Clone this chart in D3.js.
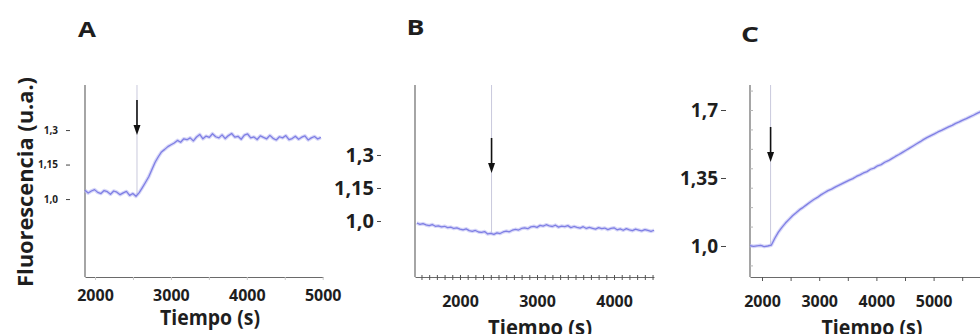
<!DOCTYPE html>
<html>
<head>
<meta charset="utf-8">
<script src="https://cdn.jsdelivr.net/npm/d3@7"></script>
<style>
  body { margin: 0; background: #fff; }
  svg { display: block; }
  text { font-family: "Open Sans", sans-serif; font-weight: 700; fill: #1e1e1e; }
</style>
</head>
<body>
<svg id="chart" width="980" height="334"></svg>
<script>
// ---- data -------------------------------------------------------------
const panelLetters = ["A", "B", "C"];
const xTitle = "Tiempo (s)";
const yTitle = "Fluorescencia (u.a.)";

// Panel A: fluorescence trace, sampled every 42 s from 1868 s
const timeStartA = 1868, timeStepA = 42;
const valuesA = [
  1.038,1.026,1.035,1.041,1.029,1.024,1.037,1.032,1.021,1.035,
  1.030,1.019,1.027,1.033,1.016,1.024,1.012,1.028,
  1.050,1.073,1.097,1.129,1.160,1.184,1.205,1.216,1.228,1.236,
  1.244,1.255,1.247,1.262,1.258,1.266,1.253,1.270,1.281,1.262,
  1.274,1.268,1.284,1.271,1.266,1.279,1.263,1.276,1.285,1.269,
  1.273,1.260,1.278,1.283,1.266,1.270,1.259,1.275,1.268,1.262,
  1.277,1.264,1.257,1.271,1.266,1.276,1.258,1.263,1.273,1.260,
  1.269,1.275,1.257,1.266,1.272,1.261,1.268
];
const xTicksA = [2000, 3000, 4000, 5000];
const yTicksA = [1.0, 1.15, 1.3];
const yTickLabelsA = ["1,0", "1,15", "1,3"];
const additionA = 2553;          // time of the addition (arrow)

// Panel B
const timeStartB = 1440, timeStepB = 40;
const valuesB = [
  0.991,0.985,0.988,0.982,0.979,0.984,0.976,0.978,0.973,0.976,
  0.970,0.972,0.966,0.969,0.963,0.960,0.964,0.956,0.953,0.957,
  0.950,0.948,0.952,0.941,0.944,0.939,0.946,0.943,0.950,0.954,
  0.951,0.958,0.962,0.959,0.966,0.969,0.965,0.973,0.976,0.971,
  0.980,0.977,0.983,0.978,0.975,0.981,0.972,0.977,0.974,0.979,
  0.970,0.975,0.971,0.968,0.974,0.966,0.971,0.967,0.963,0.970,
  0.965,0.968,0.961,0.966,0.969,0.960,0.964,0.958,0.965,0.960,
  0.956,0.963,0.959,0.955,0.961,0.957,0.953,0.958
];
const xTicksB = [2000, 3000, 4000];
const yTicksB = [1.0, 1.15, 1.3];
const yTickLabelsB = ["1,0", "1,15", "1,3"];
const additionB = 2410;

// Panel C
const timeStartC = 1790, timeStepC = 62;
const valuesC = [
  1.002,0.998,1.001,1.003,0.997,1.000,1.004,1.040,1.071,1.096,
  1.118,1.137,1.156,1.171,1.187,1.199,1.213,1.226,1.239,1.250,
  1.263,1.274,1.285,1.293,1.303,1.312,1.321,1.330,1.339,1.347,
  1.358,1.366,1.376,1.383,1.395,1.401,1.413,1.419,1.431,1.439,
  1.450,1.461,1.471,1.482,1.493,1.504,1.515,1.526,1.537,1.549,
  1.559,1.568,1.577,1.587,1.595,1.604,1.613,1.621,1.631,1.639,
  1.648,1.656,1.665,1.673,1.683,1.691
];
const xTicksC = [2000, 3000, 4000, 5000];
const yTicksC = [1.0, 1.35, 1.7];
const yTickLabelsC = ["1,0", "1,35", "1,7"];
const additionC = 2150;

// ---- layout -----------------------------------------------------------
const plotTop = 85, plotBottom = 277;
const panels = [
  { letter: panelLetters[0], letterPos: [87, 37],
    t0: timeStartA, dt: timeStepA, values: valuesA,
    xDomain: [1868, 5004], xRange: [85, 323], yDomain: [0.661, 1.496],
    xTicks: xTicksA, minorStep: 500, minorStyle: "faint",
    yTicks: yTicksA, yLabels: yTickLabelsA, yAxisX: 70, yTickSize: 4, yPad: 8, yFont: 10,
    tickLabelY: 301, titlePos: [210, 324.5], titleLen: 100,
    addT: additionA, markerTo: 1.02, arrow: [100, 135] },
  { letter: panelLetters[1], letterPos: [415.5, 35],
    t0: timeStartB, dt: timeStepB, values: valuesB,
    xDomain: [1416, 4519], xRange: [415, 654], yDomain: [0.7455, 1.618],
    xTicks: xTicksB, minorStep: 100, minorStyle: "cross",
    yTicks: yTicksB, yLabels: yTickLabelsB, yAxisX: 381, yTickSize: 4, yPad: 3, yFont: 20,
    tickLabelY: 307, titlePos: [540, 335], titleLen: 104,
    addT: additionB, markerTo: 0.944, arrow: [138, 173] },
  { letter: panelLetters[2], letterPos: [750, 42],
    t0: timeStartC, dt: timeStepC, values: valuesC,
    xDomain: [1790, 5820], xRange: [750, 980.5], yDomain: [0.8404, 1.8287],
    xTicks: xTicksC, minorStep: 500, minorStyle: "below", yMinor: true,
    yTicks: yTicksC, yLabels: yTickLabelsC, yAxisX: 726, yTickSize: 5, yPad: 3, yFont: 19,
    tickLabelY: 307, titlePos: [872, 335], titleLen: 101,
    addT: additionC, markerTo: 1.0, arrow: [127, 162] }
];

const svg = d3.select("#chart");

panels.forEach(p => {
  const x = d3.scaleLinear().domain(p.xDomain).range(p.xRange);
  const y = d3.scaleLinear().domain(p.yDomain).range([plotBottom, plotTop]);
  const g = svg.append("g");

  // panel letter
  g.append("text").attr("x", p.letterPos[0]).attr("y", p.letterPos[1])
    .attr("text-anchor", "middle").style("font-size", "22px")
    .attr("textLength", 18).attr("lengthAdjust", "spacingAndGlyphs").text(p.letter);

  // addition marker: thin vertical line + black arrow
  const xa = x(p.addT);
  g.append("line").attr("x1", xa).attr("x2", xa)
    .attr("y1", plotTop).attr("y2", y(p.markerTo))
    .attr("stroke", "#c9c9dd").attr("stroke-width", 1);
  g.append("line").attr("x1", xa).attr("x2", xa)
    .attr("y1", p.arrow[0]).attr("y2", p.arrow[1] - 8)
    .attr("stroke", "#111").attr("stroke-width", 1.6);
  g.append("path")
    .attr("d", `M${xa - 3.5},${p.arrow[1] - 10}L${xa + 3.5},${p.arrow[1] - 10}L${xa},${p.arrow[1]}Z`)
    .attr("fill", "#111");

  // minor ticks along the time axis
  const minorVals = d3.range(Math.ceil(p.xDomain[0] / p.minorStep) * p.minorStep, p.xDomain[1] + 1, p.minorStep);
  const xMinor = d3.axisBottom(x).tickValues(minorVals).tickFormat("")
    .tickSizeInner(p.minorStyle === "below" ? 4 : 3).tickSizeOuter(0);
  const gm = g.append("g").attr("transform", `translate(0,${plotBottom})`).call(xMinor);
  gm.select(".domain").attr("stroke", "#6a6a6a").attr("stroke-width", 1.2);
  gm.selectAll(".tick line")
    .attr("stroke", p.minorStyle === "faint" ? "#c8c8c8" : "#555")
    .attr("y1", p.minorStyle === "cross" ? -2 : 0);

  // time labels
  const xLab = d3.axisBottom(x).tickValues(p.xTicks).tickFormat(d3.format("d")).tickSize(0);
  const gl = g.append("g").call(xLab);
  gl.select(".domain").remove();
  gl.selectAll(".tick text").attr("y", p.tickLabelY).attr("dy", null)
    .style("font-size", "16px").style("font-family", "'Open Sans', sans-serif").attr("fill", "#1e1e1e");

  // vertical axis line
  g.append("line").attr("x1", p.xRange[0]).attr("x2", p.xRange[0])
    .attr("y1", plotTop).attr("y2", plotBottom).attr("stroke", "#6a6a6a").attr("stroke-width", 1.2);

  if (p.yMinor) {
    const yMin = d3.axisRight(y).tickValues(d3.range(0.9, 1.81, 0.1)).tickFormat("").tickSize(3).tickSizeOuter(0);
    const gy = g.append("g").attr("transform", `translate(${p.xRange[0]},0)`).call(yMin);
    gy.select(".domain").remove();
    gy.selectAll(".tick line").attr("stroke", "#b5b5b5");
  }

  // fluorescence labels in their own column
  const yLab = d3.axisLeft(y).tickValues(p.yTicks)
    .tickFormat((d, i) => p.yLabels[i]).tickSize(p.yTickSize).tickPadding(p.yPad);
  const gyl = g.append("g").attr("transform", `translate(${p.yAxisX},0)`).call(yLab);
  gyl.select(".domain").remove();
  gyl.selectAll(".tick line").attr("stroke", "#444").attr("stroke-width", 1);
  gyl.selectAll(".tick text").style("font-size", p.yFont + "px")
    .style("font-family", "'Open Sans', sans-serif").attr("fill", "#1e1e1e");

  // trace
  const pts = p.values.map((v, i) => [p.t0 + i * p.dt, v]);
  const line = d3.line().x(d => x(d[0])).y(d => y(d[1]));
  g.append("path").datum(pts).attr("d", line).attr("fill", "none")
    .attr("stroke", "#bcbcf3").attr("stroke-width", 3.6).attr("stroke-opacity", 0.6)
    .attr("stroke-linejoin", "round");
  g.append("path").datum(pts).attr("d", line).attr("fill", "none")
    .attr("stroke", "#7f7fe4").attr("stroke-width", 1.3).attr("stroke-linejoin", "round");

  // time axis title
  g.append("text").attr("x", p.titlePos[0]).attr("y", p.titlePos[1])
    .attr("text-anchor", "middle").style("font-size", "21px")
    .attr("textLength", p.titleLen).attr("lengthAdjust", "spacingAndGlyphs").text(xTitle);
});

// shared fluorescence title on the left
svg.append("text")
  .attr("transform", "translate(33,182) rotate(-90)")
  .attr("text-anchor", "middle").style("font-size", "21px")
  .attr("textLength", 210).attr("lengthAdjust", "spacingAndGlyphs")
  .text(yTitle);
</script>
</body>
</html>
